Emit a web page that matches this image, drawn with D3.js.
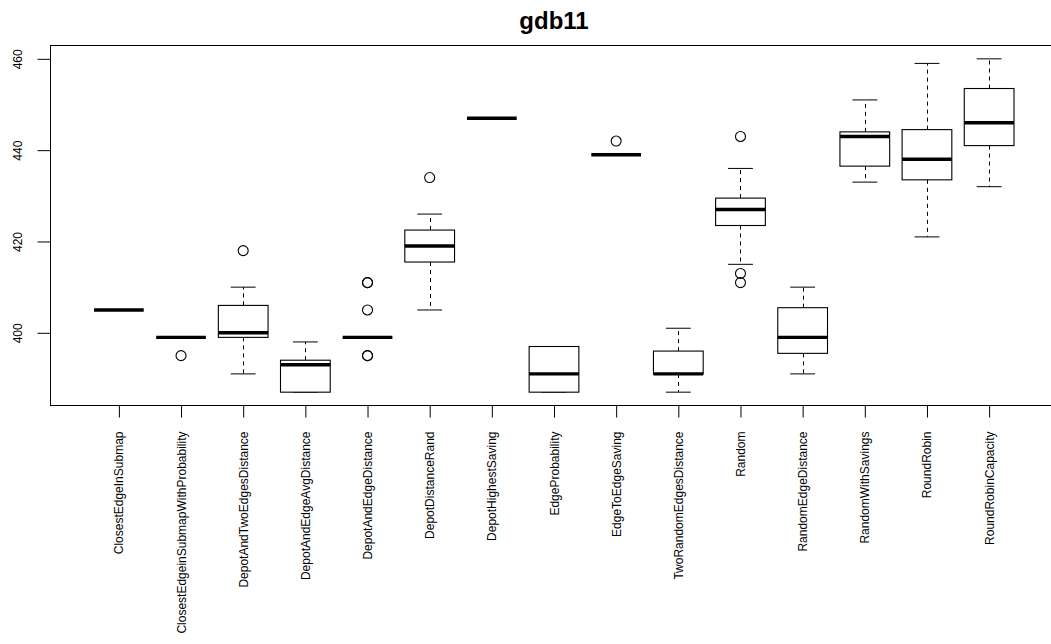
<!DOCTYPE html>
<meta charset="utf-8">
<style>
    body { margin: 0; background: #fff; }
    svg { display: block; font-family: "Liberation Sans", Arial, Helvetica, sans-serif; }
    .frame { fill: none; stroke: #000; stroke-width: 1; }
    .box { fill: #fff; stroke: #000; stroke-width: 1.1; }
    .median { stroke: #000; stroke-width: 3.4; }
    .whisker { stroke: #000; stroke-width: 1; stroke-dasharray: 4, 4; }
    .staple { stroke: #000; stroke-width: 1; }
    .outlier { fill: none; stroke: #000; stroke-width: 1.1; }
</style>
<body>
<script src="https://cdn.jsdelivr.net/npm/d3@7"></script>
<script>

    var width = 1051;
    var height = 644;

    var title = "gdb11";

    var categories = [
        "ClosestEdgeInSubmap",
        "ClosestEdgeinSubmapWithProbability",
        "DepotAndTwoEdgesDistance",
        "DepotAndEdgeAvgDistance",
        "DepotAndEdgeDistance",
        "DepotDistanceRand",
        "DepotHighestSaving",
        "EdgeProbability",
        "EdgeToEdgeSaving",
        "TwoRandomEdgesDistance",
        "Random",
        "RandomEdgeDistance",
        "RandomWithSavings",
        "RoundRobin",
        "RoundRobinCapacity"
    ];

    // five number summaries
    var whiskerLow  = [405, 399, 391, 387, 399, 405,   447, 387, 439, 387, 415,   391,   433,   421,   432];
    var q1          = [405, 399, 399, 387, 399, 415.5, 447, 387, 439, 391, 423.5, 395.5, 436.5, 433.5, 441];
    var median      = [405, 399, 400, 393, 399, 419,   447, 391, 439, 391, 427,   399,   443,   438,   446];
    var q3          = [405, 399, 406, 394, 399, 422.5, 447, 397, 439, 396, 429.5, 405.5, 444,   444.5, 453.5];
    var whiskerHigh = [405, 399, 410, 398, 399, 426,   447, 397, 439, 401, 436,   410,   451,   459,   460];
    var outliers = [
        [],
        [395],
        [418],
        [],
        [395, 395, 405, 411, 411],
        [434],
        [],
        [],
        [442],
        [],
        [443, 413, 411],
        [],
        [],
        [],
        []
    ];

    var yTicks = [400, 420, 440, 460];

    var data = categories.map(function (c, i) {
        return {
            name: c,
            pos: i + 1,
            lo: whiskerLow[i],
            q1: q1[i],
            med: median[i],
            q3: q3[i],
            hi: whiskerHigh[i],
            out: outliers[i]
        };
    });

    var svg = d3.select("body").append("svg")
        .attr("width", width)
        .attr("height", height);

    // plot region like R: ranges extended by 4%
    var n = categories.length;
    var xlo = 0.5, xhi = n + 0.5;
    var xpad = (xhi - xlo) * 0.04;
    var x = d3.scaleLinear()
        .domain([xlo - xpad, xhi + xpad])
        .range([50.5, 1057.5]);

    var allValues = d3.merge([whiskerLow, whiskerHigh, d3.merge(outliers)]);
    var ext = d3.extent(allValues);
    var ypad = (ext[1] - ext[0]) * 0.04;
    var y = d3.scaleLinear()
        .domain([ext[0] - ypad, ext[1] + ypad])
        .range([405.5, 45.5]);

    var BOX_W = x(1.4) - x(1);
    var STAPLE_W = x(1.2) - x(1);

    /////////////////////////////////
    // BOXES
    /////////////////////////////////

    var g = svg.selectAll("g.cat")
        .data(data)
        .enter()
        .append("g")
        .attr("class", "cat");

    g.append("line")
        .attr("class", "whisker")
        .attr("x1", function (d) { return Math.round(x(d.pos)) + 0.5; })
        .attr("x2", function (d) { return Math.round(x(d.pos)) + 0.5; })
        .attr("y1", function (d) { return y(d.q3); })
        .attr("y2", function (d) { return y(d.hi); });

    g.append("line")
        .attr("class", "whisker")
        .attr("x1", function (d) { return Math.round(x(d.pos)) + 0.5; })
        .attr("x2", function (d) { return Math.round(x(d.pos)) + 0.5; })
        .attr("y1", function (d) { return y(d.q1); })
        .attr("y2", function (d) { return y(d.lo); });

    g.selectAll("line.staple")
        .data(function (d) { return [{ pos: d.pos, v: d.hi }, { pos: d.pos, v: d.lo }]; })
        .enter()
        .append("line")
        .attr("class", "staple")
        .attr("x1", function (d) { return x(d.pos) - STAPLE_W; })
        .attr("x2", function (d) { return x(d.pos) + STAPLE_W; })
        .attr("y1", function (d) { return y(d.v); })
        .attr("y2", function (d) { return y(d.v); });

    g.append("rect")
        .attr("class", "box")
        .attr("x", function (d) { return x(d.pos) - BOX_W; })
        .attr("width", BOX_W * 2)
        .attr("y", function (d) { return y(d.q3); })
        .attr("height", function (d) { return y(d.q1) - y(d.q3); });

    g.append("line")
        .attr("class", "median")
        .attr("x1", function (d) { return x(d.pos) - BOX_W; })
        .attr("x2", function (d) { return x(d.pos) + BOX_W; })
        .attr("y1", function (d) { return y(d.med); })
        .attr("y2", function (d) { return y(d.med); });

    g.selectAll("circle.outlier")
        .data(function (d) {
            return d.out.map(function (v) { return { pos: d.pos, v: v }; });
        })
        .enter()
        .append("circle")
        .attr("class", "outlier")
        .attr("cx", function (d) { return x(d.pos); })
        .attr("cy", function (d) { return y(d.v); })
        .attr("r", 5);

    /////////////////////////////////
    // FRAME + AXES
    /////////////////////////////////

    svg.append("rect")
        .attr("class", "frame")
        .attr("x", x.range()[0])
        .attr("y", y.range()[1])
        .attr("width", x.range()[1] - x.range()[0])
        .attr("height", y.range()[0] - y.range()[1]);

    var yAxis = d3.axisLeft(y)
        .tickValues(yTicks)
        .tickSize(13)
        .tickPadding(2)
        .tickFormat(d3.format("d"));

    var yG = svg.append("g")
        .attr("transform", "translate(" + x.range()[0] + ",0)")
        .call(yAxis);
    yG.select(".domain")
        .attr("d", "M0," + y(400) + "V" + y(460));
    yG.selectAll(".tick line").attr("stroke", "#000");
    yG.selectAll(".tick text")
        .attr("x", null)
        .attr("dy", null)
        .attr("transform", "translate(-28.5,0) rotate(-90)")
        .attr("text-anchor", "middle")
        .style("font-size", "12px")
        .style("font-family", "'Liberation Sans', Arial, sans-serif")
        .attr("fill", "#000");

    var xAxis = d3.axisBottom(x)
        .tickValues(d3.range(1, n + 1))
        .tickSize(12)
        .tickFormat(function (d) { return categories[d - 1]; });

    var xG = svg.append("g")
        .attr("transform", "translate(0," + y.range()[0] + ")")
        .call(xAxis);
    xG.select(".domain")
        .attr("d", "M" + x(1) + ",0H" + x(n));
    xG.selectAll(".tick line").attr("stroke", "#000");
    xG.selectAll(".tick text")
        .attr("y", null)
        .attr("dy", null)
        .attr("transform", "translate(4,26) rotate(-90)")
        .attr("text-anchor", "end")
        .style("font-size", "12px")
        .style("font-family", "'Liberation Sans', Arial, sans-serif")
        .attr("fill", "#000");

    svg.append("text")
        .attr("x", (x.range()[0] + x.range()[1]) / 2)
        .attr("y", 29)
        .attr("text-anchor", "middle")
        .style("font-size", "24px")
        .style("font-weight", "bold")
        .text(title);

</script>
</body>
</html>
